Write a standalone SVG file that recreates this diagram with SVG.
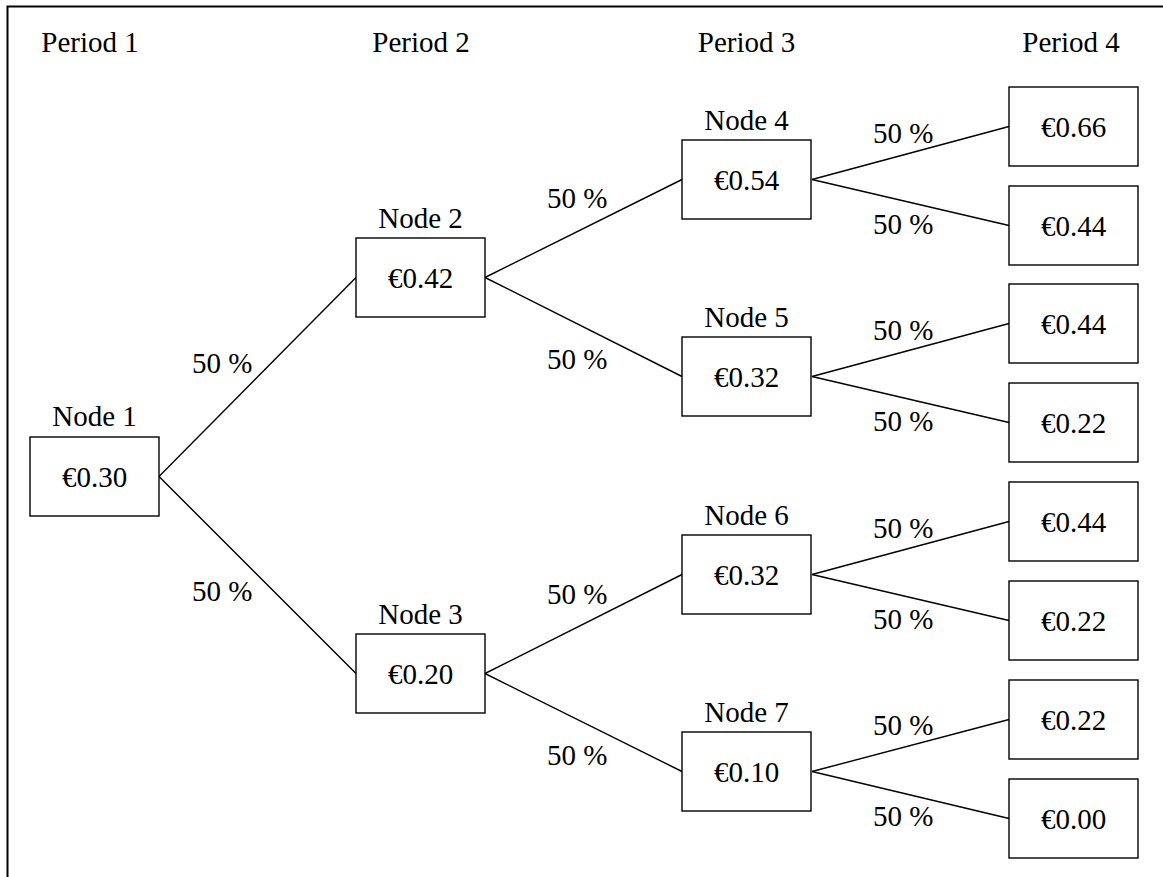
<svg xmlns="http://www.w3.org/2000/svg" width="1163" height="877" viewBox="0 0 1163 877">
<style>
text{font-family:"Liberation Serif","Times New Roman",serif;font-size:29px;fill:#000}
.c{text-anchor:middle}
.box{fill:#fff;stroke:#000;stroke-width:1.4}
.edge{stroke:#000;stroke-width:1.4;fill:none}
</style>
<rect width="1163" height="877" fill="#fff"/>
<path d="M7.5,877 V6.5 H1163" fill="none" stroke="#000" stroke-width="2"/>
<g id="periods">
<text class="c" x="90" y="52">Period 1</text>
<text class="c" x="421" y="52">Period 2</text>
<text class="c" x="746.5" y="52">Period 3</text>
<text class="c" x="1071" y="52">Period 4</text>
</g>
<g id="connectors">
<line class="edge" x1="159" y1="476.5" x2="356" y2="277.5"/>
<line class="edge" x1="159" y1="476.5" x2="356" y2="673.5"/>
<line class="edge" x1="485" y1="277.5" x2="682" y2="179.5"/>
<line class="edge" x1="485" y1="277.5" x2="682" y2="376.5"/>
<line class="edge" x1="485" y1="673.5" x2="682" y2="574.5"/>
<line class="edge" x1="485" y1="673.5" x2="682" y2="771.5"/>
<line class="edge" x1="812" y1="179.5" x2="1009" y2="126.5"/>
<line class="edge" x1="812" y1="179.5" x2="1009" y2="225.5"/>
<line class="edge" x1="812" y1="376.5" x2="1009" y2="323.5"/>
<line class="edge" x1="812" y1="376.5" x2="1009" y2="422.5"/>
<line class="edge" x1="812" y1="574.5" x2="1009" y2="521.5"/>
<line class="edge" x1="812" y1="574.5" x2="1009" y2="620.5"/>
<line class="edge" x1="812" y1="771.5" x2="1009" y2="719.5"/>
<line class="edge" x1="812" y1="771.5" x2="1009" y2="818.5"/>
<text x="192" y="373">50 %</text>
<text x="192" y="601">50 %</text>
<text x="547" y="208">50 %</text>
<text x="547" y="369">50 %</text>
<text x="547" y="604">50 %</text>
<text x="547" y="765">50 %</text>
<text x="873" y="143">50 %</text>
<text x="873" y="234">50 %</text>
<text x="873" y="340">50 %</text>
<text x="873" y="431">50 %</text>
<text x="873" y="538">50 %</text>
<text x="873" y="629">50 %</text>
<text x="873" y="735">50 %</text>
<text x="873" y="826">50 %</text>
</g>
<g id="node1"><text class="c" x="94.5" y="426">Node 1</text><rect class="box" x="30" y="437" width="129" height="79"/><text class="c" x="94.5" y="487">€0.30</text></g>
<g id="node2"><text class="c" x="420.5" y="228">Node 2</text><rect class="box" x="356" y="238" width="129" height="79"/><text class="c" x="420.5" y="288">€0.42</text></g>
<g id="node3"><text class="c" x="420.5" y="624">Node 3</text><rect class="box" x="356" y="634" width="129" height="79"/><text class="c" x="420.5" y="684">€0.20</text></g>
<g id="node4"><text class="c" x="746.5" y="130">Node 4</text><rect class="box" x="682" y="140" width="129" height="79"/><text class="c" x="746.5" y="190">€0.54</text></g>
<g id="node5"><text class="c" x="746.5" y="327">Node 5</text><rect class="box" x="682" y="337" width="129" height="79"/><text class="c" x="746.5" y="387">€0.32</text></g>
<g id="node6"><text class="c" x="746.5" y="525">Node 6</text><rect class="box" x="682" y="535" width="129" height="79"/><text class="c" x="746.5" y="585">€0.32</text></g>
<g id="node7"><text class="c" x="746.5" y="722">Node 7</text><rect class="box" x="682" y="732" width="129" height="79"/><text class="c" x="746.5" y="782">€0.10</text></g>
<g id="leaf1"><rect class="box" x="1009" y="87" width="129" height="79"/><text class="c" x="1073.5" y="137">€0.66</text></g>
<g id="leaf2"><rect class="box" x="1009" y="186" width="129" height="79"/><text class="c" x="1073.5" y="236">€0.44</text></g>
<g id="leaf3"><rect class="box" x="1009" y="284" width="129" height="79"/><text class="c" x="1073.5" y="334">€0.44</text></g>
<g id="leaf4"><rect class="box" x="1009" y="383" width="129" height="79"/><text class="c" x="1073.5" y="433">€0.22</text></g>
<g id="leaf5"><rect class="box" x="1009" y="482" width="129" height="79"/><text class="c" x="1073.5" y="532">€0.44</text></g>
<g id="leaf6"><rect class="box" x="1009" y="581" width="129" height="79"/><text class="c" x="1073.5" y="631">€0.22</text></g>
<g id="leaf7"><rect class="box" x="1009" y="680" width="129" height="79"/><text class="c" x="1073.5" y="730">€0.22</text></g>
<g id="leaf8"><rect class="box" x="1009" y="779" width="129" height="79"/><text class="c" x="1073.5" y="829">€0.00</text></g>
</svg>
